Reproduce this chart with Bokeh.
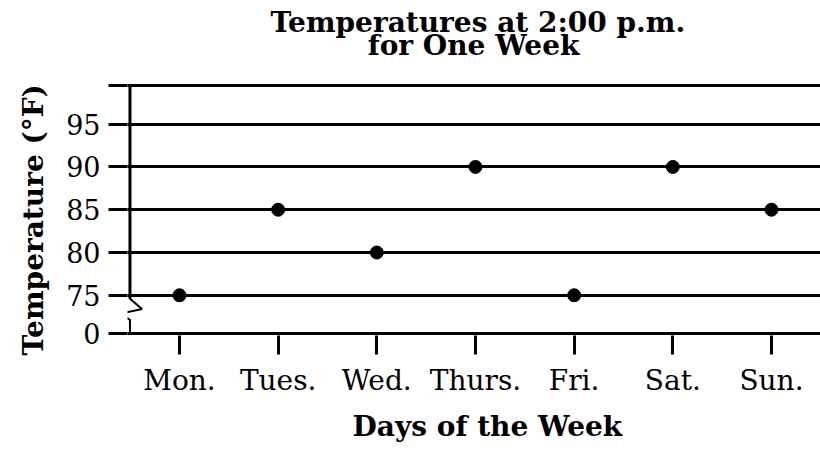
from bokeh.plotting import figure
from bokeh.models import Range1d, FixedTicker, Title, Label
from bokeh.embed import file_html
from bokeh.resources import INLINE

# ---- data ----
days = ["Mon.", "Tues.", "Wed.", "Thurs.", "Fri.", "Sat.", "Sun."]
temps = [75, 85, 80, 90, 75, 90, 85]
y_ticks = [75, 80, 85, 90, 95]
zero_pos = 70.5      # where the broken-axis "0" is drawn
top_pos = 99.5       # top frame line
title_lines = ["Temperatures at 2:00 p.m.", "for One Week"]
x_title = "Days of the Week"
y_title = "Temperature (°F)"

FONT = "DejaVu Serif"
x_idx = list(range(len(days)))

# frame spans from the canvas top (room for the title) down to just below the 0 line
p = figure(width=820, height=450, output_backend="svg", toolbar_location=None,
           x_range=Range1d(-0.527, 6.497), y_range=Range1d(70.3, 109.45),
           min_border_left=127, min_border_right=0, min_border_top=0,
           min_border_bottom=115)
p.outline_line_color = None
p.background_fill_color = "white"
p.border_fill_color = "white"

all_y = [zero_pos] + y_ticks + [top_pos]
overrides = {zero_pos: "0", top_pos: ""}

yax = p.yaxis[0]
yax.ticker = FixedTicker(ticks=all_y)
yax.major_label_overrides = overrides
yax.axis_line_color = None
yax.major_tick_out = 19
yax.major_tick_in = 0
yax.major_tick_line_width = 3
yax.major_tick_line_color = "black"
yax.minor_tick_line_color = None
yax.major_label_standoff = 8
yax.major_label_text_font = FONT
yax.major_label_text_font_size = "27px"
yax.major_label_text_color = "black"

xax = p.xaxis[0]
xax.ticker = FixedTicker(ticks=x_idx)
xax.major_label_overrides = {i: d for i, d in zip(x_idx, days)}
xax.axis_line_color = None
xax.major_tick_out = 19
xax.major_tick_in = 0
xax.major_tick_line_width = 3
xax.major_tick_line_color = "black"
xax.minor_tick_line_color = None
xax.major_label_standoff = 9
xax.major_label_text_font = FONT
xax.major_label_text_font_size = "28px"
xax.major_label_text_color = "black"

p.xgrid.grid_line_color = None
p.ygrid.ticker = FixedTicker(ticks=all_y)
p.ygrid.grid_line_color = "black"
p.ygrid.grid_line_width = 3

# vertical axis line with break
ax_x = -0.502
p.line([ax_x, ax_x], [top_pos, 74.6], line_color="black", line_width=3)
p.line([ax_x, ax_x, ax_x + 0.122, ax_x - 0.106, ax_x, ax_x],
       [74.6, 74.59, 73.39, 72.84, 72.13, zero_pos],
       line_color="black", line_width=2)

p.scatter(x_idx, temps, size=13, color="black")

# two-line title, drawn in the free band above the top line
p.add_layout(Label(x=3.024, y=106.88, text=title_lines[0], text_align="center",
                   text_baseline="alphabetic", text_font=FONT, text_font_style="bold",
                   text_font_size="28px", text_color="black"))
p.add_layout(Label(x=2.98, y=104.19, text=title_lines[1], text_align="center",
                   text_baseline="alphabetic", text_font=FONT, text_font_style="bold",
                   text_font_size="28px", text_color="black"))

# y-axis title (starts just below the 0 line and runs upward)
p.add_layout(Title(text=y_title, align="left", offset=-20, text_font=FONT,
                   text_font_style="bold", text_font_size="28px",
                   standoff=28, text_color="black"), "left")

# x-axis title
p.add_layout(Title(text=x_title, align="left", offset=225, text_font=FONT,
                   text_font_style="bold", text_font_size="28px",
                   standoff=16, text_color="black"), "below")

open("out.html", "w").write(file_html(p, INLINE))
